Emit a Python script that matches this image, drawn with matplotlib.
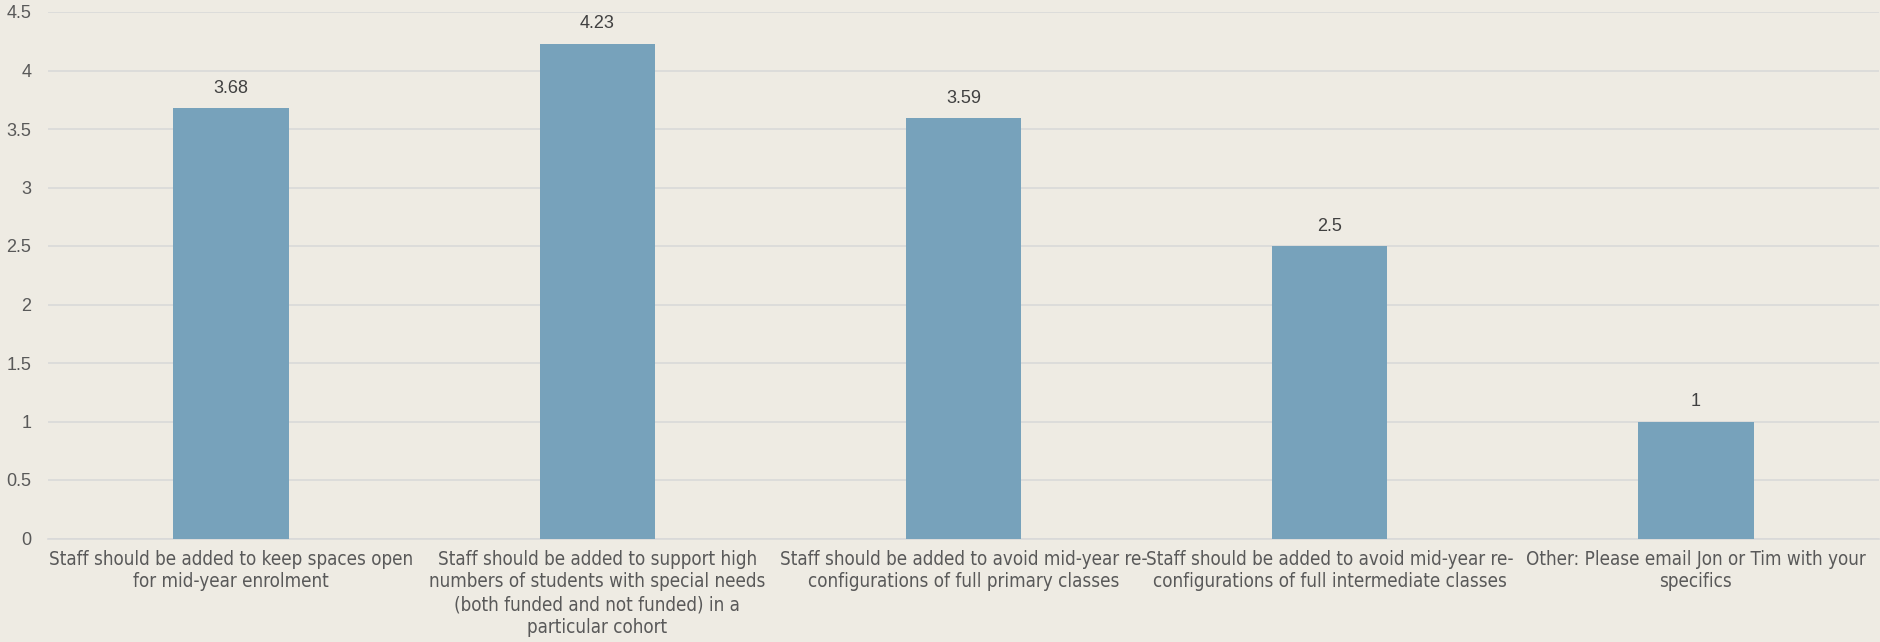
import matplotlib.pyplot as plt

categories = [
    "Staff should be added to keep spaces open\nfor mid-year enrolment",
    "Staff should be added to support high\nnumbers of students with special needs\n(both funded and not funded) in a\nparticular cohort",
    "Staff should be added to avoid mid-year re-\nconfigurations of full primary classes",
    "Staff should be added to avoid mid-year re-\nconfigurations of full intermediate classes",
    "Other: Please email Jon or Tim with your\nspecifics",
]
values = [3.68, 4.23, 3.59, 2.5, 1]
labels = ["3.68", "4.23", "3.59", "2.5", "1"]
yticks = [0, 0.5, 1, 1.5, 2, 2.5, 3, 3.5, 4, 4.5]
ytick_labels = ["0", "0.5", "1", "1.5", "2", "2.5", "3", "3.5", "4", "4.5"]

bg = "#EEEBE3"
fig = plt.figure(figsize=(18.81, 6.42), dpi=100, facecolor=bg)
ax = fig.add_axes([48 / 1881, 1 - 538.5 / 642, 1831 / 1881, 526.5 / 642])
ax.set_facecolor(bg)

x = range(len(values))
bars = ax.bar(x, values, width=0.315, color="#77A2BB", zorder=3)

for b, lab in zip(bars, labels):
    ax.annotate(lab, (b.get_x() + b.get_width() / 2, b.get_height()),
                xytext=(0, 8), textcoords="offset points",
                ha="center", va="bottom", fontsize=13, color="#404040",
                family="Liberation Sans")

ax.set_xlim(-0.5, len(values) - 0.5)
ax.set_ylim(0, 4.5)
ax.set_yticks(yticks)
ax.set_yticklabels(ytick_labels, fontsize=13, color="#595959",
                   family="Liberation Sans")
ax.set_xticks(list(x))
ax.set_xticklabels(categories, fontsize=13.5, color="#595959",
                   family="DejaVu Sans", fontstretch="condensed",
                   linespacing=1.25, va="top")
ax.tick_params(axis="both", length=0)
ax.tick_params(axis="x", pad=8)
ax.tick_params(axis="y", pad=12)

ax.yaxis.grid(True, color="#D9D9D9", linewidth=1.2, zorder=0)
for s in ["top", "right", "left"]:
    ax.spines[s].set_visible(False)
ax.spines["bottom"].set_color("#D9D9D9")
ax.spines["bottom"].set_linewidth(1.2)

fig.savefig("out.png", dpi=100, facecolor=bg)
